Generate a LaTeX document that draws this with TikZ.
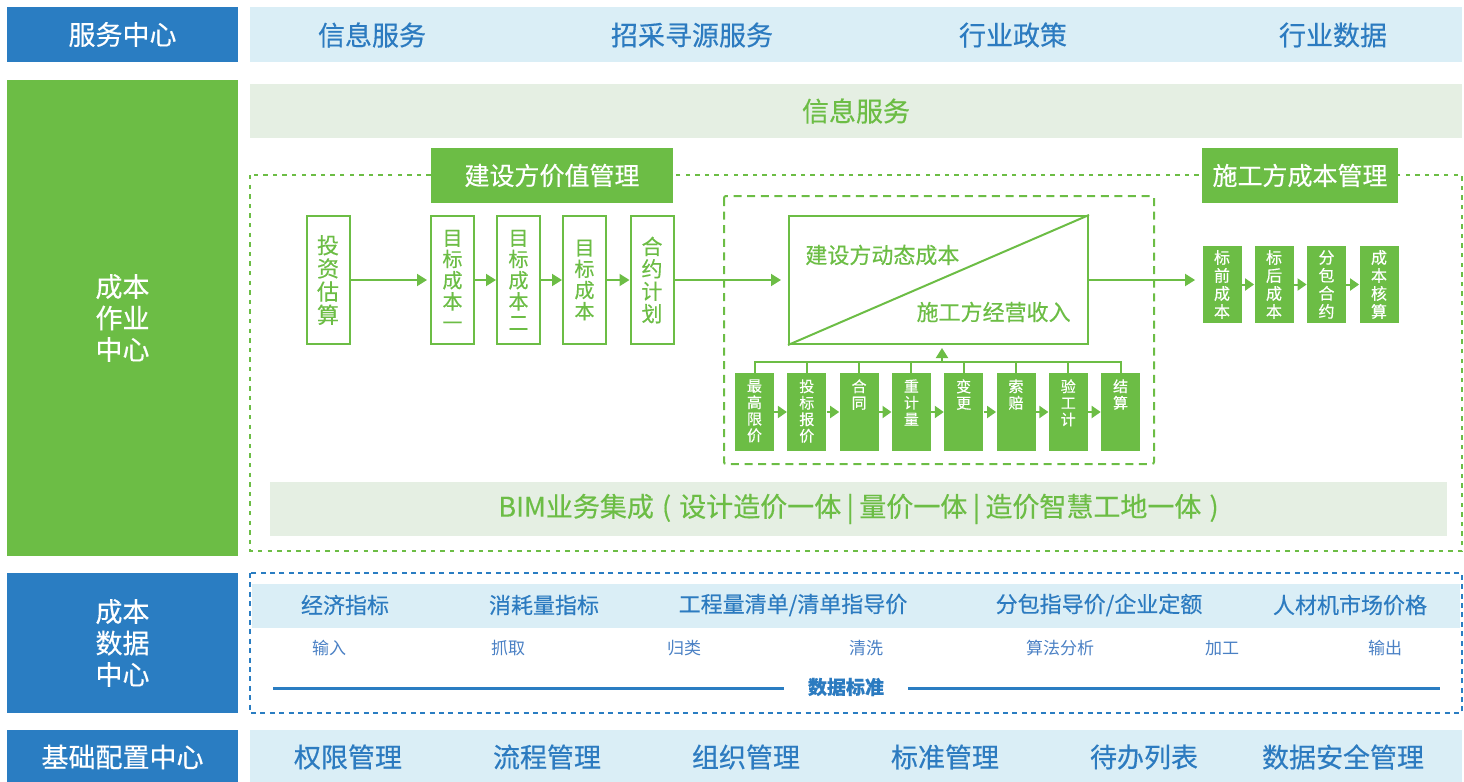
\documentclass[tikz,border=0pt]{standalone}
\usepackage{fontspec}
\setmainfont{Noto Sans CJK SC}[FakeBold=0.4]
\newfontfamily\thinfont{Noto Sans CJK SC}
\usetikzlibrary{arrows.meta}
\definecolor{cblue}{HTML}{2A7DC2}
\definecolor{cbluet}{HTML}{2C7BC0}
\definecolor{clblue}{HTML}{DAEEF6}
\definecolor{cgreen}{HTML}{6CBD45}
\definecolor{clgreen}{HTML}{E5EFE3}
\definecolor{csblue}{HTML}{4A80C4}
\begin{document}
\begin{tikzpicture}[x=0.5pt,y=-0.5pt,
  leftbox/.style={fill=cblue, text=white, inner sep=0, minimum width=115.5pt, align=center, font=\fontsize{13.5pt}{15.75pt}\selectfont},
  barbg/.style={fill=#1, inner sep=0, minimum width=606pt},
  bartext/.style={text=cbluet, inner sep=0, font=\fontsize{13.5pt}{16pt}\selectfont},
  titlebox/.style={fill=cgreen, text=white, inner sep=0, minimum height=27.5pt, font=\fontsize{12.5pt}{14pt}\selectfont},
  obox/.style={draw=cgreen, line width=1pt, fill=white, minimum width=21.5pt, minimum height=64pt, inner sep=0, text=cgreen, align=center, font=\fontsize{10pt}{10.6pt}\selectfont},
  gbox/.style={fill=cgreen, minimum width=19.5pt, minimum height=39pt, inner sep=0},
  sqbox/.style={fill=cgreen, minimum width=19.5pt, minimum height=38.5pt, inner sep=0, text=white, align=center, font=\fontsize{8pt}{9pt}\selectfont},
  gtext/.style={text=white, align=center, font=\fontsize{7.5pt}{8.25pt}\selectfont, inner sep=0, anchor=north},
  gline/.style={draw=cgreen, line width=1pt},
  arr/.style={draw=cgreen, line width=1pt, -{Triangle[length=5pt,width=6pt]}},
  sarr/.style={draw=cgreen, line width=1pt, -{Triangle[length=4.5pt,width=6pt]}},
  dtop/.style={text=cbluet, inner sep=0, font=\fontsize{11pt}{13pt}\selectfont},
  dsmall/.style={text=csblue, inner sep=0, font=\thinfont\fontsize{8.5pt}{10pt}\selectfont},
]
\useasboundingbox (0,0) rectangle (1464,782);

% ---------- left column ----------
\node[leftbox, minimum height=27.5pt] (lsvc) at (122.5,34.5) {服务中心};
\node[leftbox, fill=cgreen, minimum height=238pt] (lop) at (122.5,318) {成本\\作业\\中心};
\node[leftbox, minimum height=70pt] (ldata) at (122.5,643) {成本\\数据\\中心};
\node[leftbox, minimum height=27pt] (lbase) at (122.5,757) {基础配置中心};

% ---------- service bar ----------
\node[barbg=clblue, minimum height=27.5pt] (svcbar) at (856,34.5) {};
\node[bartext] (s1) at (372,35) {信息服务};
\node[bartext] (s2) at (692,35) {招采寻源服务};
\node[bartext] (s3) at (1013,35) {行业政策};
\node[bartext] (s4) at (1333,35) {行业数据};

% ---------- operation center ----------
\node[barbg=clgreen, minimum height=27pt, text=cgreen, font=\fontsize{13.5pt}{16pt}\selectfont] (info) at (856,111) {信息服务};
\draw[cgreen, line width=1.3pt, dash pattern=on 2.2pt off 2.6pt] (250,175) rectangle (1462,551);
\draw[cgreen, line width=1pt, dash pattern=on 4pt off 2.8pt, rounded corners=1pt] (724,196) rectangle (1154,464);

\node[titlebox, minimum width=121pt] (t1) at (552,175.5) {建设方价值管理};
\node[titlebox, minimum width=98pt] (t2) at (1300,175.5) {施工方成本管理};

\node[obox, font=\fontsize{11pt}{11.6pt}\selectfont] (o1) at (328,280) {投\\资\\估\\算};
\node[obox] (o2) at (452.5,280) {目\\标\\成\\本\\一};
\node[obox] (o3) at (518.5,280) {目\\标\\成\\本\\二};
\node[obox] (o4) at (584.5,280) {目\\标\\成\\本};
\node[obox, font=\fontsize{10.5pt}{11.2pt}\selectfont] (o5) at (652,280) {合\\约\\计\\划};

\draw[arr, shorten >=1.5pt] (o1) -- (o2);
\draw[arr] (o2) -- (o3);
\draw[arr] (o3) -- (o4);
\draw[arr] (o4) -- (o5);

\node[draw=cgreen, line width=1pt, minimum width=149.5pt, minimum height=64pt, inner sep=0] (dyn) at (938.5,280) {};
\draw[gline] (dyn.south west) -- (dyn.north east);
\node[text=cgreen, inner sep=0, anchor=west, font=\fontsize{11pt}{13pt}\selectfont] (dyn1) at (805,255) {建设方动态成本};
\node[text=cgreen, inner sep=0, anchor=east, font=\fontsize{11pt}{13pt}\selectfont] (dyn2) at (1071,312) {施工方经营收入};
\draw[arr, shorten >=3.5pt] (o5) -- (dyn);

% bottom green row
\foreach \i/\x/\t in {1/754.5/{最\\高\\限\\价},2/806.8/{投\\标\\报\\价},3/859.1/{合\\同},4/911.4/{重\\计\\量},5/963.7/{变\\更},6/1016/{索\\赔},7/1068.3/{验\\工\\计},8/1120.6/{结\\算}}{
  \node[gbox] (g\i) at (\x,412) {};
  \node[gtext] (gt\i) at (\x,379) {\t};
}
\foreach \a/\b in {1/2,2/3,3/4,4/5,5/6,6/7,7/8}{
  \draw[sarr] (g\a) -- (g\b);
}
\coordinate (busc) at (942,362);
\draw[gline] (g1.north) -- (g1.north |- busc) -- (g8.north |- busc) -- (g8.north);
\foreach \i in {2,...,7}{
  \draw[gline] (g\i.north) -- (g\i.north |- busc);
}
\draw[arr, shorten >=1.5pt] (busc) -- (busc |- dyn.south);

% construction side boxes
\node[sqbox] (q1) at (1222,284.5) {标\\前\\成\\本};
\node[sqbox] (q2) at (1274,284.5) {标\\后\\成\\本};
\node[sqbox] (q3) at (1326.5,284.5) {分\\包\\合\\约};
\node[sqbox] (q4) at (1379,284.5) {成\\本\\核\\算};
\draw[sarr] (q1) -- (q2);
\draw[sarr] (q2) -- (q3);
\draw[sarr] (q3) -- (q4);
\draw[arr, shorten >=3.5pt] (dyn.east) -- (dyn.east -| q1.west);

% BIM bar
\node[fill=clgreen, minimum width=588.5pt, minimum height=27pt, inner sep=0, text=cgreen, font=\fontsize{13.5pt}{15pt}\selectfont] (bim) at (858.5,509) {BIM业务集成\hspace{0.3em}(\hspace{0.3em}设计造价一体\hspace{0.2em}|\hspace{0.2em}量价一体\hspace{0.2em}|\hspace{0.2em}造价智慧工地一体\hspace{0.3em})};

% ---------- data center ----------
\draw[cblue, line width=1.3pt, dash pattern=on 2.5pt off 2.2pt] (250,573) rectangle (1462,713);
\node[fill=clblue, minimum width=604pt, minimum height=22pt, inner sep=0] (dband) at (856,605.5) {};
\node[dtop] (d1) at (345,605) {经济指标};
\node[dtop] (d2) at (544,605) {消耗量指标};
\node[dtop] (d3) at (793,605) {工程量清单/清单指导价};
\node[dtop] (d4) at (1099,605) {分包指导价/企业定额};
\node[dtop] (d5) at (1350,605) {人材机市场价格};
\node[dsmall] (e1) at (329,648) {输入};
\node[dsmall] (e2) at (508,648) {抓取};
\node[dsmall] (e3) at (684,648) {归类};
\node[dsmall] (e4) at (866,648) {清洗};
\node[dsmall] (e5) at (1060,648) {算法分析};
\node[dsmall] (e6) at (1222,648) {加工};
\node[dsmall] (e7) at (1385,648) {输出};
\node[text=cbluet, inner sep=0, font=\fontsize{9.5pt}{11pt}\selectfont\bfseries] (dstd) at (846,687) {数据标准};
\coordinate (dlL) at (273,688);
\coordinate (dlR) at (1440,688);
\draw[cblue, line width=1.5pt] (dlL) -- ([xshift=-12pt]dstd.west |- dlL);
\draw[cblue, line width=1.5pt] ([xshift=12pt]dstd.east |- dlR) -- (dlR);

% ---------- base config ----------
\node[barbg=clblue, minimum height=27pt] (basebar) at (856,757) {};
\node[bartext] (b1) at (348,757) {权限管理};
\node[bartext] (b2) at (547,757) {流程管理};
\node[bartext] (b3) at (746,757) {组织管理};
\node[bartext] (b4) at (945,757) {标准管理};
\node[bartext] (b5) at (1144,757) {待办列表};
\node[bartext] (b6) at (1343,757) {数据安全管理};
\end{tikzpicture}
\end{document}
